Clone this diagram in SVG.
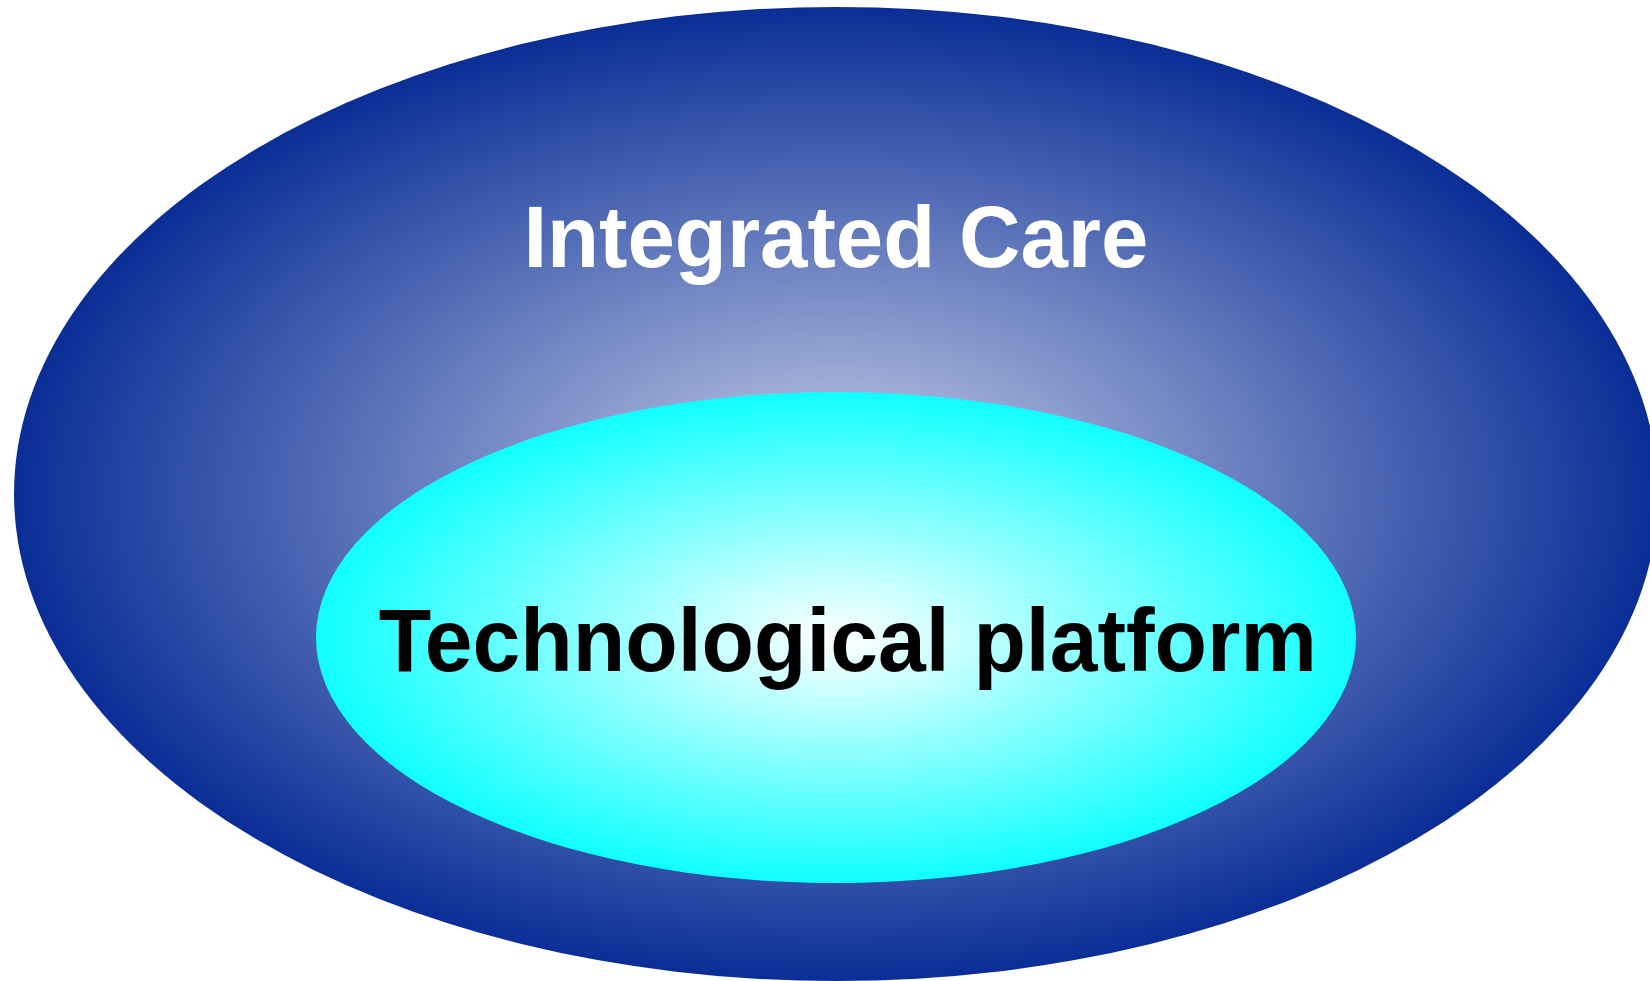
<svg xmlns="http://www.w3.org/2000/svg" width="1650" height="981" viewBox="0 0 1650 981">
  <style>
    .label { font-family: "Liberation Sans", Arial, sans-serif; font-weight: bold; }
    .outer-label { fill: #ffffff; font-size: 87px; }
    .inner-label { fill: #000000; font-size: 89px; }
  </style>
  <defs>
    <radialGradient id="gradOuter" cx="0.5" cy="0.5" r="0.5" fx="0.5" fy="0.5">
      <stop offset="0" stop-color="#c8d0e8"/>
      <stop offset="1" stop-color="#0a2e96"/>
    </radialGradient>
    <radialGradient id="gradInner" cx="0.5" cy="0.5" r="0.5" fx="0.5" fy="0.5">
      <stop offset="0" stop-color="#ffffff"/>
      <stop offset="1" stop-color="#10ffff"/>
    </radialGradient>
  </defs>
  <rect width="1650" height="981" fill="#ffffff"/>
  <g id="integrated-care">
    <ellipse cx="836" cy="494" rx="822" ry="487" fill="url(#gradOuter)"/>
    <text class="label outer-label" x="523.4" y="267.3" textLength="625" lengthAdjust="spacingAndGlyphs">Integrated Care</text>
  </g>
  <g id="technological-platform">
    <ellipse cx="836" cy="637.5" rx="520" ry="245.5" fill="url(#gradInner)"/>
    <text class="label inner-label" x="378.8" y="670.5" textLength="938" lengthAdjust="spacingAndGlyphs">Technological platform</text>
  </g>
  <g id="connectors"/>
</svg>
